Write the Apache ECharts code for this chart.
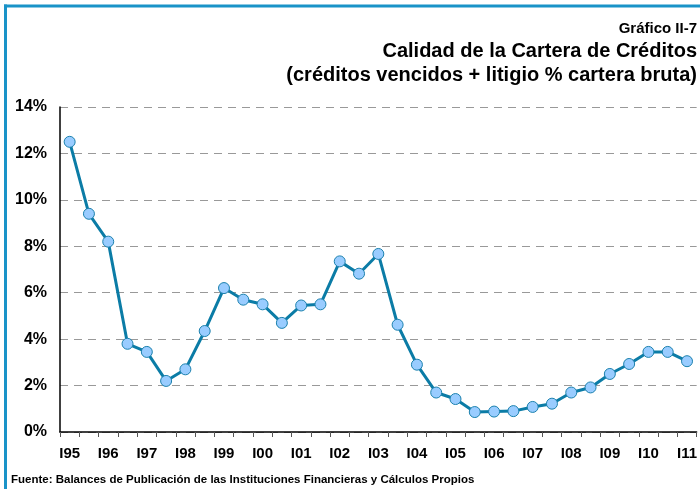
<!DOCTYPE html>
<html>
<head>
<meta charset="utf-8">
<script src="https://cdn.jsdelivr.net/npm/echarts@6/dist/echarts.min.js"></script>
<style>
  html, body { margin: 0; padding: 0; background: #fff; }
  #chart { width: 700px; height: 489px; }
</style>
</head>
<body>
<div id="chart"></div>
<script>
// semestres I95 .. I11
var periodos = ['I95', 'II95', 'I96', 'II96', 'I97', 'II97', 'I98', 'II98', 'I99', 'II99',
  'I00', 'II00', 'I01', 'II01', 'I02', 'II02', 'I03', 'II03', 'I04', 'II04',
  'I05', 'II05', 'I06', 'II06', 'I07', 'II07', 'I08', 'II08', 'I09', 'II09',
  'I10', 'II10', 'I11'];
// creditos vencidos + litigio, % cartera bruta
var calidad = [12.5, 9.4, 8.2, 3.8, 3.45, 2.2, 2.7, 4.35, 6.2, 5.7,
  5.5, 4.7, 5.45, 5.5, 7.35, 6.82, 7.67, 4.62, 2.9, 1.7,
  1.42, 0.86, 0.88, 0.9, 1.08, 1.22, 1.7, 1.92, 2.5, 2.93,
  3.45, 3.45, 3.05];

var fuente = 'Fuente: Balances de Publicación de las Instituciones Financieras y Cálculos Propios';
var font = 'Liberation Sans, Arial, sans-serif';

var myChart = echarts.init(document.getElementById('chart'));
myChart.setOption({
  animation: false,
  title: [
    { text: 'Gráfico II-7', right: 3, top: 21, padding: 0,
      textStyle: { fontFamily: font, fontWeight: 'bold', fontSize: 15, color: '#000' } },
    { text: 'Calidad de la Cartera de Créditos', right: 3, top: 41, padding: 0,
      textStyle: { fontFamily: font, fontWeight: 'bold', fontSize: 20, color: '#000' } },
    { text: '(créditos vencidos + litigio % cartera bruta)', right: 3, top: 65, padding: 0,
      textStyle: { fontFamily: font, fontWeight: 'bold', fontSize: 20, color: '#000' } },
    { text: fuente, left: 11, top: 474, padding: 0,
      textStyle: { fontFamily: font, fontWeight: 'bold', fontSize: 11.5, color: '#000' } }
  ],
  graphic: [
    { type: 'line', shape: { x1: 4, y1: 6, x2: 700, y2: 6 },
      style: { stroke: '#1a93c8', lineWidth: 3 } },
    { type: 'line', shape: { x1: 5.5, y1: 4.5, x2: 5.5, y2: 489 },
      style: { stroke: '#1a93c8', lineWidth: 3 } }
  ],
  grid: { left: 60, right: 2, top: 107, bottom: 57 },
  xAxis: {
    type: 'category',
    data: periodos,
    boundaryGap: true,
    axisLine: { lineStyle: { color: '#000', width: 1.5 } },
    axisTick: { show: true, interval: 0, length: 5, lineStyle: { color: '#555' } },
    axisLabel: {
      interval: 1, margin: 14,
      fontFamily: font, fontWeight: 'bold', fontSize: 15, color: '#000'
    }
  },
  yAxis: {
    type: 'value',
    min: 0, max: 14, interval: 2,
    axisLine: { show: true, lineStyle: { color: '#000', width: 1.5 } },
    axisTick: { show: false },
    axisLabel: {
      formatter: '{value}%', margin: 13,
      fontFamily: font, fontWeight: 'bold', fontSize: 16, color: '#000'
    },
    splitLine: { lineStyle: { color: '#999', type: [8, 6], width: 1 } }
  },
  series: [{
    type: 'line',
    data: calidad,
    symbol: 'circle',
    symbolSize: 11,
    lineStyle: { color: '#0b7ca6', width: 3 },
    itemStyle: { color: '#99ccff', borderColor: '#1a80ad', borderWidth: 1 }
  }]
});
</script>
</body>
</html>
